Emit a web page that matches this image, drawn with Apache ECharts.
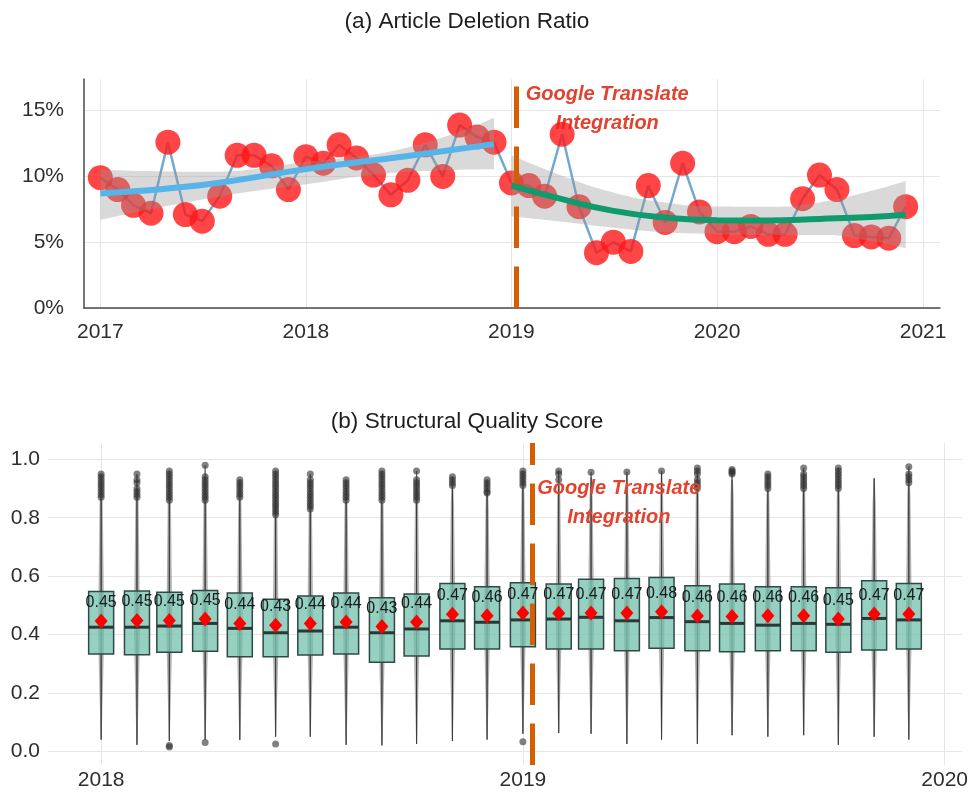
<!DOCTYPE html>
<html>
<head>
<meta charset="utf-8">
<script src="https://cdn.jsdelivr.net/npm/echarts@6/dist/echarts.min.js"></script>
<style>
  html, body { margin: 0; padding: 0; background: #ffffff; }
  #chart { width: 971px; height: 793px; }
</style>
</head>
<body>
<div id="chart"></div>
<script>
// ---------- (a) Article deletion ratio, monthly, in percent ----------
const deletionYears = [2017, 2018, 2019, 2020];
const deletion2017 = [9.9, 9.0, 7.8, 7.2, 12.6, 7.1, 6.6, 8.5, 11.6, 11.6, 10.8, 9.0];
const deletion2018 = [11.5, 11.0, 12.4, 11.4, 10.1, 8.6, 9.7, 12.4, 10.0, 13.9, 13.0, 12.6];
const deletion2019 = [9.5, 9.3, 8.5, 13.2, 7.7, 4.2, 5.0, 4.3, 9.3, 6.5, 11.0, 7.3];
const deletion2020 = [5.8, 5.8, 6.2, 5.6, 5.6, 8.3, 10.1, 9.0, 5.5, 5.4, 5.3, 7.7];

// Smoothed trend before the integration (fit, lower and upper confidence bound)
const trendBeforeMonths = ['2017-01', '2017-07', '2018-01', '2018-07', '2018-12'];
const trendBeforeFit    = [8.70, 9.35, 10.55, 11.55, 12.45];
const trendBeforeLow    = [6.70, 8.25, 9.40, 10.35, 10.55];
const trendBeforeHigh   = [10.50, 10.35, 11.10, 12.20, 14.45];

// Smoothed trend after the integration
const trendAfterMonths = ['2019-01', '2019-04', '2019-07', '2019-10', '2020-01', '2020-04', '2020-07', '2020-10', '2020-12'];
const trendAfterFit    = [9.30, 8.27, 7.38, 6.87, 6.67, 6.65, 6.77, 6.92, 7.08];
const trendAfterLow    = [6.95, 6.55, 6.10, 5.75, 5.60, 5.55, 5.55, 5.10, 4.55];
const trendAfterHigh   = [11.60, 10.05, 8.78, 8.02, 7.72, 7.70, 8.02, 8.90, 9.65];

// ---------- (b) Structural quality score, monthly box plots ----------
const boxYears = [2018, 2019];
const boxLow    = [0.040, 0.022, 0.035, 0.040, 0.039, 0.050, 0.050, 0.022, 0.020, 0.025, 0.035, 0.040,
                   0.060, 0.063, 0.060, 0.025, 0.040, 0.025, 0.055, 0.050, 0.055, 0.022, 0.050, 0.040];
const boxQ1     = [0.333, 0.331, 0.339, 0.343, 0.324, 0.324, 0.330, 0.333, 0.305, 0.326, 0.350, 0.350,
                   0.358, 0.350, 0.350, 0.344, 0.353, 0.344, 0.341, 0.344, 0.344, 0.339, 0.347, 0.350];
const boxMedian = [0.425, 0.425, 0.429, 0.438, 0.421, 0.406, 0.412, 0.425, 0.406, 0.419, 0.447, 0.442,
                   0.450, 0.453, 0.459, 0.447, 0.458, 0.444, 0.438, 0.432, 0.438, 0.435, 0.455, 0.450];
const boxQ3     = [0.547, 0.549, 0.545, 0.551, 0.542, 0.521, 0.532, 0.542, 0.526, 0.539, 0.575, 0.564,
                   0.577, 0.573, 0.589, 0.592, 0.595, 0.567, 0.573, 0.564, 0.564, 0.560, 0.584, 0.575];
const boxHigh   = [0.865, 0.865, 0.850, 0.855, 0.860, 0.800, 0.820, 0.855, 0.850, 0.850, 0.900, 0.880,
                   0.900, 0.920, 0.940, 0.945, 0.950, 0.890, 0.930, 0.890, 0.890, 0.890, 0.935, 0.910];
const boxMean   = [0.446, 0.448, 0.448, 0.453, 0.438, 0.432, 0.438, 0.443, 0.427, 0.443, 0.469, 0.464,
                   0.474, 0.473, 0.474, 0.474, 0.478, 0.463, 0.462, 0.464, 0.464, 0.453, 0.470, 0.470];
const outliersHigh = [
  [0.87, 0.88, 0.89, 0.90, 0.91, 0.92, 0.93, 0.94, 0.95],
  [0.87, 0.88, 0.89, 0.90, 0.92, 0.93, 0.95],
  [0.86, 0.87, 0.88, 0.89, 0.90, 0.91, 0.92, 0.93, 0.94, 0.95, 0.96],
  [0.86, 0.87, 0.88, 0.89, 0.90, 0.91, 0.92, 0.93, 0.94, 0.98],
  [0.87, 0.88, 0.89, 0.90, 0.91, 0.92, 0.93],
  [0.81, 0.82, 0.83, 0.84, 0.85, 0.86, 0.87, 0.88, 0.89, 0.90, 0.91, 0.92, 0.93, 0.94, 0.95, 0.96],
  [0.83, 0.84, 0.85, 0.86, 0.87, 0.88, 0.89, 0.90, 0.91, 0.92, 0.93, 0.95],
  [0.86, 0.87, 0.88, 0.89, 0.90, 0.91, 0.92, 0.93],
  [0.86, 0.87, 0.88, 0.89, 0.90, 0.91, 0.92, 0.93, 0.94, 0.95, 0.96],
  [0.86, 0.87, 0.88, 0.89, 0.90, 0.91, 0.92, 0.93, 0.96],
  [0.91, 0.92, 0.93, 0.94],
  [0.885, 0.89, 0.90, 0.91, 0.92, 0.93],
  [0.91, 0.92, 0.93, 0.94, 0.95, 0.96],
  [0.93, 0.95, 0.96],
  [0.956],
  [0.957],
  [0.96],
  [0.90, 0.91, 0.92, 0.93, 0.95, 0.96, 0.97],
  [0.95, 0.955, 0.96, 0.965],
  [0.90, 0.91, 0.92, 0.93, 0.94, 0.95],
  [0.90, 0.91, 0.92, 0.93, 0.94, 0.95, 0.97],
  [0.90, 0.91, 0.92, 0.93, 0.94, 0.95, 0.96, 0.97],
  [],
  [0.92, 0.93, 0.94, 0.95, 0.975]
];
const outliersLow = [[], [], [0.02, 0.015], [0.03], [], [0.025], [], [], [], [], [], [],
                     [0.033], [], [], [], [], [], [], [], [], [], [], []];

// Google Translate integration date and its note
const integrationDate = '2019-01-09';
const integrationNote = 'Google Translate\nIntegration';
const noteAnchorA = ['2019-06-20', 15.1];
const noteAnchorB = ['2019-03-25', 0.852];

// ---------- helpers ----------
const ts = (s) => {
  const p = s.split('-').map(Number);
  return new Date(p[0], p[1] - 1, p[2] || 1).getTime();
};
const pad = (n) => (n < 10 ? '0' : '') + n;
const monthKeys = (years) => {
  const out = [];
  years.forEach((y) => { for (let m = 1; m <= 12; m++) out.push(y + '-' + pad(m)); });
  return out;
};
const yearStarts = (a, b) => {
  const out = [];
  for (let y = a; y <= b; y++) out.push(new Date(y, 0, 1).getTime());
  return out;
};

const deletionMonths = monthKeys(deletionYears);
const deletionValues = [].concat(deletion2017, deletion2018, deletion2019, deletion2020);
const deletionData = deletionMonths.map((m, i) => [ts(m), deletionValues[i]]);

const bandLow = (months, low) => months.map((m, i) => [ts(m), low[i]]);
const bandSpan = (months, low, high) => months.map((m, i) => [ts(m), high[i] - low[i]]);
const fitLine = (months, fit) => months.map((m, i) => [ts(m), fit[i]]);

const boxMonths = monthKeys(boxYears);
const boxData = boxMonths.map((m, i) => [ts(m), boxLow[i], boxQ1[i], boxMedian[i], boxQ3[i], boxHigh[i]]);
const spreadData = boxMonths.map((m, i) => {
  const top = Math.max(boxHigh[i], ...(outliersHigh[i].length ? outliersHigh[i] : [0]));
  return [ts(m), boxLow[i], boxQ1[i], boxMedian[i], boxQ3[i], top];
});
const outlierData = [];
boxMonths.forEach((m, i) => {
  outliersHigh[i].concat(outliersLow[i]).forEach((v) => outlierData.push([ts(m), v]));
});
const meanData = boxMonths.map((m, i) => [ts(m), boxMean[i]]);

// ---------- styles ----------
const FONT = "'Liberation Sans', Arial, Helvetica, sans-serif";
const TICK_COLOR = '#2e2e2e';
const GRID_COLOR = '#e6e6e6';
const VLINE_COLOR = '#d55e00';
const NOTE_COLOR = '#e2432f';
const BAND_COLOR = 'rgba(150,150,150,0.36)';

const noteLabel = {
  show: true,
  position: 'inside',
  formatter: integrationNote,
  fontFamily: FONT,
  fontSize: 20,
  fontWeight: 'bold',
  fontStyle: 'italic',
  color: NOTE_COLOR,
  lineHeight: 29,
  align: 'center',
  verticalAlign: 'middle'
};

const vline = {
  silent: true,
  symbol: ['none', 'none'],
  label: { show: false },
  lineStyle: { color: VLINE_COLOR, width: 5, type: [41.5, 18.5], opacity: 1 },
  emphasis: { disabled: true },
  data: [{ xAxis: ts(integrationDate) }]
};

const yearFormatter = (v) => String(new Date(v).getFullYear());

const chart = echarts.init(document.getElementById('chart'), null, { renderer: 'canvas' });

const rangeA = [ts('2016-12-03'), ts('2021-01-31')];
const rangeB = [ts('2017-11-16'), ts('2020-01-16')];

const option = {
  animation: false,
  backgroundColor: '#ffffff',
  textStyle: { fontFamily: FONT },
  title: [
    { text: '(a) Article Deletion Ratio', left: 462, top: 5, textAlign: 'center',
      textStyle: { fontFamily: FONT, fontSize: 22.6, fontWeight: 'normal', color: '#1e1e1e' } },
    { text: '(b) Structural Quality Score', left: 462, top: 405, textAlign: 'center',
      textStyle: { fontFamily: FONT, fontSize: 22.6, fontWeight: 'normal', color: '#1e1e1e' } }
  ],
  grid: [
    { left: 84, top: 79, width: 856, height: 229, containLabel: false },
    { left: 48, top: 443, width: 914, height: 322, containLabel: false }
  ],
  xAxis: [
    {
      // dates stored as millisecond timestamps on a numeric axis
      type: 'value', gridIndex: 0, scale: true, min: rangeA[0], max: rangeA[1],
      axisLine: { show: true, onZero: false, lineStyle: { color: '#4a4a4a', width: 1.5 } },
      axisTick: { show: false, customValues: yearStarts(2017, 2021) },
      axisLabel: { customValues: yearStarts(2017, 2021), formatter: yearFormatter,
                   fontSize: 21, color: TICK_COLOR, margin: 14, fontFamily: FONT },
      splitLine: { show: true, lineStyle: { color: GRID_COLOR, width: 1 } }
    },
    {
      type: 'value', gridIndex: 1, scale: true, min: rangeB[0], max: rangeB[1],
      axisLine: { show: false },
      axisTick: { show: false, customValues: yearStarts(2018, 2020) },
      axisLabel: { customValues: yearStarts(2018, 2020), formatter: yearFormatter,
                   fontSize: 21, color: TICK_COLOR, margin: 5, fontFamily: FONT },
      splitLine: { show: true, lineStyle: { color: GRID_COLOR, width: 1 } }
    },
    {
      // hidden time axis over panel (a), used by the stacked confidence bands
      type: 'time', gridIndex: 0, min: rangeA[0], max: rangeA[1], show: false,
      splitLine: { show: false }
    }
  ],
  yAxis: [
    {
      type: 'value', gridIndex: 0, min: 0, max: 17.4,
      axisLine: { show: true, onZero: false, lineStyle: { color: '#4a4a4a', width: 1.5 } },
      axisTick: { show: false, customValues: [0, 5, 10, 15] },
      axisLabel: { customValues: [0, 5, 10, 15], formatter: (v) => v + '%',
                   fontSize: 21, color: TICK_COLOR, margin: 20, fontFamily: FONT },
      splitLine: { show: true, lineStyle: { color: GRID_COLOR, width: 1 } }
    },
    {
      type: 'value', gridIndex: 1, min: -0.047, max: 1.056,
      axisLine: { show: false },
      axisTick: { show: false, customValues: [0, 0.2, 0.4, 0.6, 0.8, 1.0] },
      axisLabel: { customValues: [0, 0.2, 0.4, 0.6, 0.8, 1.0], formatter: (v) => v.toFixed(1),
                   fontSize: 21, color: TICK_COLOR, margin: 8, fontFamily: FONT },
      splitLine: { show: true, lineStyle: { color: GRID_COLOR, width: 1 } }
    }
  ],
  series: [
    // ----- panel (a) -----
    {
      name: 'note-a', type: 'scatter', xAxisIndex: 0, yAxisIndex: 0,
      data: [[ts(noteAnchorA[0]), noteAnchorA[1]]], symbolSize: 0, silent: true,
      itemStyle: { opacity: 1 }, label: noteLabel, z: 1
    },
    {
      name: 'monthly-line', type: 'line', xAxisIndex: 0, yAxisIndex: 0,
      data: deletionData, symbol: 'none', silent: true,
      lineStyle: { color: '#72a9cf', width: 2.5 }, z: 2
    },
    {
      name: 'monthly-points', type: 'scatter', xAxisIndex: 0, yAxisIndex: 0,
      data: deletionData, symbol: 'circle', symbolSize: 25, silent: true,
      itemStyle: { color: 'rgba(255, 22, 22, 0.8)', opacity: 1 }, z: 3
    },
    {
      name: 'band-before-low', type: 'line', xAxisIndex: 2, yAxisIndex: 0, stack: 'bandBefore',
      data: bandLow(trendBeforeMonths, trendBeforeLow), symbol: 'none', smooth: true, silent: true,
      lineStyle: { opacity: 0 }, z: 4
    },
    {
      name: 'band-before', type: 'line', xAxisIndex: 2, yAxisIndex: 0, stack: 'bandBefore',
      data: bandSpan(trendBeforeMonths, trendBeforeLow, trendBeforeHigh), symbol: 'none', smooth: true, silent: true,
      lineStyle: { opacity: 0 }, areaStyle: { color: BAND_COLOR, opacity: 1 }, z: 4
    },
    {
      name: 'trend-before', type: 'line', xAxisIndex: 0, yAxisIndex: 0,
      data: fitLine(trendBeforeMonths, trendBeforeFit), symbol: 'none', smooth: true, silent: true,
      lineStyle: { color: '#56b4e9', width: 6 }, z: 5
    },
    {
      name: 'band-after-low', type: 'line', xAxisIndex: 2, yAxisIndex: 0, stack: 'bandAfter',
      data: bandLow(trendAfterMonths, trendAfterLow), symbol: 'none', smooth: true, silent: true,
      lineStyle: { opacity: 0 }, z: 4
    },
    {
      name: 'band-after', type: 'line', xAxisIndex: 2, yAxisIndex: 0, stack: 'bandAfter',
      data: bandSpan(trendAfterMonths, trendAfterLow, trendAfterHigh), symbol: 'none', smooth: true, silent: true,
      lineStyle: { opacity: 0 }, areaStyle: { color: BAND_COLOR, opacity: 1 }, z: 4
    },
    {
      name: 'trend-after', type: 'line', xAxisIndex: 0, yAxisIndex: 0,
      data: fitLine(trendAfterMonths, trendAfterFit), symbol: 'none', smooth: true, silent: true,
      lineStyle: { color: '#0f9b6e', width: 6 }, z: 5,
      markLine: vline
    },

    // ----- panel (b) -----
    {
      name: 'spread', type: 'custom', xAxisIndex: 1, yAxisIndex: 1, silent: true,
      data: spreadData, encode: { x: 0, y: [1, 2, 3, 4, 5] }, z: 2,
      renderItem: (params, api) => {
        const t = api.value(0);
        const lo = api.coord([t, api.value(1)]);
        const q1 = api.coord([t, api.value(2)]);
        const md = api.coord([t, api.value(3)]);
        const q3 = api.coord([t, api.value(4)]);
        const top = api.coord([t, api.value(5)]);
        const x = lo[0];
        const half = [0.5, 2.6, 3.0, 2.6, 1.6, 0.6];
        const ys = [lo[1], q1[1], md[1], q3[1], q3[1] + (top[1] - q3[1]) * 0.75, top[1]];
        const pts = [];
        ys.forEach((y, k) => pts.push([x - half[k], y]));
        for (let k = ys.length - 1; k >= 0; k--) pts.push([x + half[k], ys[k]]);
        return {
          type: 'group',
          children: [
            { type: 'polygon', shape: { points: pts }, style: { fill: 'rgba(115,115,115,0.55)' } },
            { type: 'line', shape: { x1: x, y1: lo[1], x2: x, y2: top[1] },
              style: { stroke: 'rgba(60,60,60,0.75)', lineWidth: 1 } }
          ]
        };
      }
    },
    {
      name: 'outliers', type: 'scatter', xAxisIndex: 1, yAxisIndex: 1, silent: true,
      data: outlierData, symbol: 'circle', symbolSize: 7,
      itemStyle: { color: 'rgba(50,50,50,0.62)', opacity: 1 }, z: 3
    },
    {
      name: 'boxes', type: 'custom', xAxisIndex: 1, yAxisIndex: 1, silent: true,
      data: boxData, encode: { x: 0, y: [1, 2, 3, 4, 5] }, z: 4,
      renderItem: (params, api) => {
        const t = api.value(0);
        const lo = api.coord([t, api.value(1)]);
        const q1 = api.coord([t, api.value(2)]);
        const md = api.coord([t, api.value(3)]);
        const q3 = api.coord([t, api.value(4)]);
        const hi = api.coord([t, api.value(5)]);
        const x = q1[0];
        const w = 25;
        return {
          type: 'group',
          children: [
            { type: 'line', shape: { x1: x, y1: lo[1], x2: x, y2: q1[1] },
              style: { stroke: '#3a3a3a', lineWidth: 1 } },
            { type: 'line', shape: { x1: x, y1: q3[1], x2: x, y2: hi[1] },
              style: { stroke: '#3a3a3a', lineWidth: 1 } },
            { type: 'rect', shape: { x: x - w / 2, y: q3[1], width: w, height: q1[1] - q3[1] },
              style: { fill: 'rgba(112,192,172,0.74)', stroke: '#2f4a46', lineWidth: 1.5 } },
            { type: 'line', shape: { x1: x - w / 2, y1: md[1], x2: x + w / 2, y2: md[1] },
              style: { stroke: '#2a3836', lineWidth: 3 } }
          ]
        };
      }
    },
    {
      name: 'means', type: 'scatter', xAxisIndex: 1, yAxisIndex: 1, silent: true,
      data: meanData, symbol: 'diamond', symbolSize: [13, 15],
      itemStyle: { color: '#ff0000', opacity: 1 }, z: 5,
      label: {
        show: true, position: 'top', distance: 3,
        formatter: (p) => p.value[1].toFixed(2),
        fontFamily: FONT, fontSize: 16, color: '#1a1a1a'
      }
    },
    {
      name: 'integration-b', type: 'line', xAxisIndex: 1, yAxisIndex: 1,
      data: [], symbol: 'none', silent: true, z: 6,
      markLine: vline
    },
    {
      name: 'note-b', type: 'scatter', xAxisIndex: 1, yAxisIndex: 1,
      data: [[ts(noteAnchorB[0]), noteAnchorB[1]]], symbolSize: 0, silent: true,
      itemStyle: { opacity: 1 }, label: noteLabel, z: 7
    }
  ]
};

chart.setOption(option);
</script>
</body>
</html>
